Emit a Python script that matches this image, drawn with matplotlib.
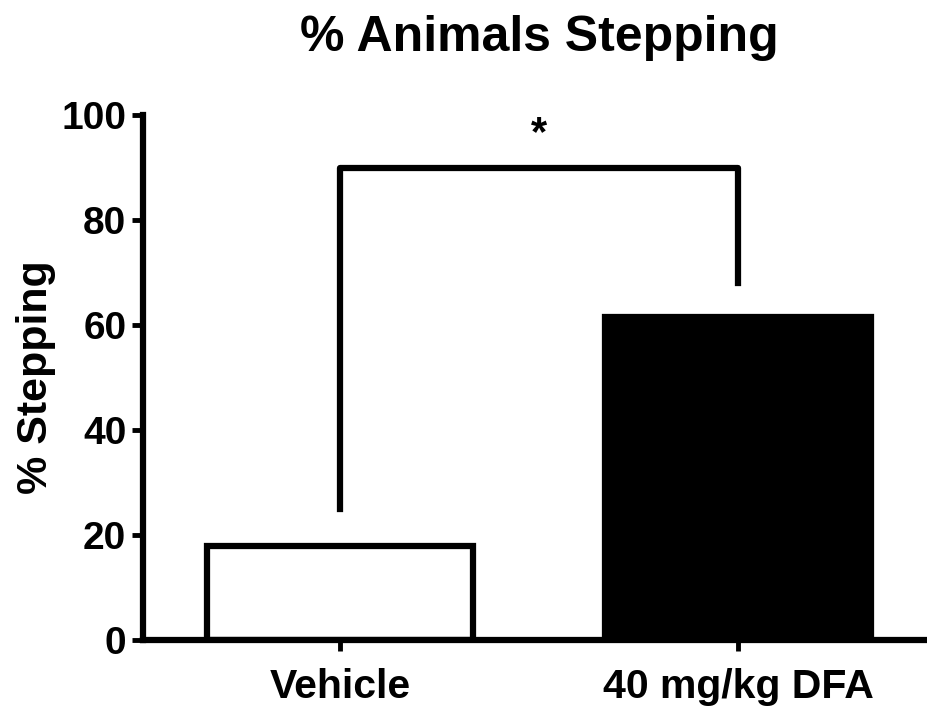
import numpy as np
import matplotlib.pyplot as plt

plt.rcParams['font.family'] = ['Liberation Sans', 'DejaVu Sans']
plt.rcParams['font.weight'] = 'bold'

groups = ['Vehicle', '40 mg/kg DFA']
values = [18.0, 61.5]
face_colors = ['white', 'black']
# significance bracket: height and leg ends
bracket_top = 90
bracket_legs = [25, 68]
sig_label = '*'

fig = plt.figure(figsize=(9.27, 7.09), dpi=100)
ax = fig.add_axes([143 / 927, 69 / 709, 1 - 143 / 927, 525 / 709])

x = np.arange(len(groups))
ax.bar(x, values, width=0.67, color=face_colors, edgecolor='black',
       linewidth=4.5, zorder=2)

# bracket
ax.plot([x[0], x[0], x[1], x[1]],
        [bracket_legs[0], bracket_top, bracket_top, bracket_legs[1]],
        color='black', lw=4.5, solid_joinstyle='round', clip_on=False)
ax.text((x[0] + x[1]) / 2, bracket_top + 2.5, sig_label, ha='center', va='bottom',
        fontsize=30, fontweight='bold')

ax.set_xlim(-0.495, 1.475)
ax.set_ylim(0, 100)
ax.set_yticks([0, 20, 40, 60, 80, 100])
ax.set_xticks(x)
ax.set_xticklabels(groups)

for s in ['top', 'right']:
    ax.spines[s].set_visible(False)
for s in ['left', 'bottom']:
    ax.spines[s].set_linewidth(4.5)
ax.tick_params(axis='both', length=8, width=3.5, pad=4)
ax.tick_params(axis='y', labelsize=28)
ax.tick_params(axis='x', labelsize=29.5, pad=12)

ax.set_ylabel('% Stepping', fontsize=31, fontweight='bold', labelpad=4)
fig.text(0.582, 0.946, '% Animals Stepping', ha='center', va='center',
         fontsize=36, fontweight='bold')

fig.savefig('out.png', dpi=100)
